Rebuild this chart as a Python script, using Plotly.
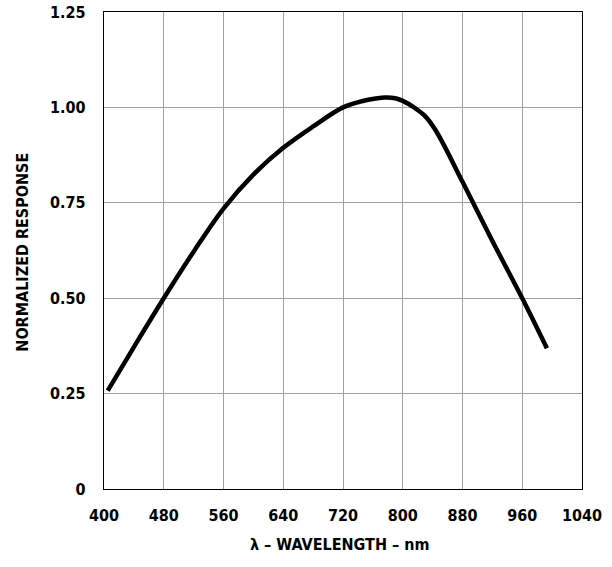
import plotly.graph_objects as go

wavelength = [405, 440, 480, 520, 560, 600, 640, 680, 720, 745, 775, 790, 800, 815, 829, 844, 880, 920, 960, 993]
response = [0.258, 0.372, 0.500, 0.622, 0.735, 0.824, 0.894, 0.950, 1.000, 1.016, 1.026, 1.024, 1.017, 1.000, 0.979, 0.940, 0.805, 0.650, 0.500, 0.369]

x_ticks = [400, 480, 560, 640, 720, 800, 880, 960, 1040]
y_ticks = [0, 0.25, 0.5, 0.75, 1.0, 1.25]
y_labels = ["0", "0.25", "0.50", "0.75", "1.00", "1.25"]

FONT = "DejaVu Sans Condensed"
L, R, T, B = 103.5, 29.5, 11.5, 77.5

fig = go.Figure()
fig.add_trace(go.Scatter(x=wavelength, y=response, mode="lines",
                         line=dict(color="black", width=4.5, shape="spline", smoothing=1.0),
                         showlegend=False, hoverinfo="skip"))

tf = dict(family=FONT, size=16, color="black", weight="bold")

fig.update_layout(
    width=612, height=567,
    margin=dict(l=L, r=R, t=T, b=B, autoexpand=False),
    paper_bgcolor="white", plot_bgcolor="white",
    font=dict(family=FONT, size=16, color="black"),
    xaxis=dict(range=[400, 1040], tickvals=x_ticks, ticktext=[str(v) for v in x_ticks],
               showgrid=True, gridcolor="#a0a0a0", gridwidth=1,
               showline=True, linecolor="black", linewidth=1.2, mirror=True,
               ticks="", zeroline=False, automargin=False,
               ticklabelstandoff=12, tickfont=tf),
    yaxis=dict(range=[0, 1.25], tickvals=y_ticks, ticktext=y_labels,
               showgrid=True, gridcolor="#a0a0a0", gridwidth=1,
               showline=True, linecolor="black", linewidth=1.2, mirror=True,
               ticks="", zeroline=False, automargin=False,
               ticklabelstandoff=14, tickfont=tf),
)

pw = 612 - L - R
ph = 567 - T - B

def px2paper(px, py):
    return (px - L) / pw, 1 - (py - T) / ph

ax, ay = px2paper(339, 545)
bx, by = px2paper(22, 252)
fig.add_annotation(text="λ – WAVELENGTH – nm", x=ax, y=ay, xref="paper", yref="paper",
                   xanchor="center", yanchor="middle", showarrow=False,
                   font=dict(family=FONT, size=16, color="black", weight="bold"))
fig.add_annotation(text="NORMALIZED RESPONSE", x=bx, y=by, xref="paper", yref="paper",
                   xanchor="center", yanchor="middle", textangle=-90, showarrow=False,
                   font=dict(family=FONT, size=16, color="black", weight="bold"))

fig.write_html("out.html", config={"displayModeBar": False, "staticPlot": True},
               post_script="document.body.style.margin='0';document.body.style.padding='0';")
